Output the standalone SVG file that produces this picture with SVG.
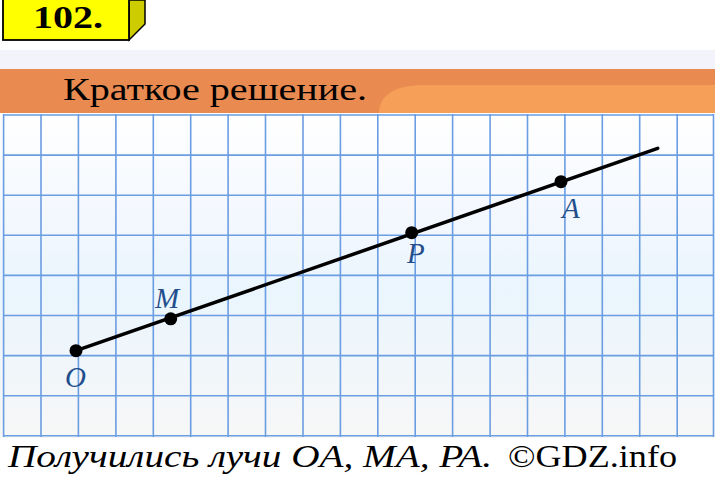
<svg xmlns="http://www.w3.org/2000/svg" width="715" height="477" viewBox="0 0 715 477">
<defs>
<style>
.grid line{stroke:#6B9DE2;stroke-width:1.6}
.pt{fill:#000}
.serif{font-family:"Liberation Serif","Times New Roman",serif}
.lbl{font-family:"Liberation Serif","Times New Roman",serif;font-style:italic;font-size:29px;fill:#234E8C}
.ray{stroke:#000;stroke-width:3.5;stroke-linecap:round;fill:none}
</style>
<linearGradient id="tint" x1="0" y1="0" x2="0" y2="1">
<stop offset="0" stop-color="#FFFFFF"/>
<stop offset="0.3" stop-color="#F4F8FE"/>
<stop offset="0.55" stop-color="#EAF5FD"/>
<stop offset="1" stop-color="#F7F7F7"/>
</linearGradient>
</defs>
<rect x="0" y="0" width="715" height="477" fill="#FFFFFF"/>
<rect x="0" y="50" width="715" height="19" fill="#F3F3FB"/>
<rect x="0" y="113" width="715" height="325" fill="url(#tint)"/>
<g id="header">
<polygon points="129,0 145,0 145,24 129,40" fill="#CCCC00" stroke="#000" stroke-width="1.5"/>
<rect x="3" y="-2" width="126" height="42" fill="#FFFF00" stroke="#000" stroke-width="1.8"/>
<text class="serif" x="33" y="28" font-weight="bold" font-size="31" fill="#000" textLength="70" lengthAdjust="spacingAndGlyphs">102.</text>
</g>
<g id="banner">
<rect x="0" y="69" width="715" height="44" fill="#E98A51"/>
<path d="M379,113 C379,95 395,85 425,85 L715,85 L715,113 Z" fill="#F59F58"/>
<text class="serif" x="63" y="100" font-size="32" fill="#000" textLength="304" lengthAdjust="spacingAndGlyphs">Краткое решение.</text>
</g>
<g class="grid">
<line x1="3.6" y1="114" x2="3.6" y2="437"/>
<line x1="41" y1="114" x2="41" y2="437"/>
<line x1="78.4" y1="114" x2="78.4" y2="437"/>
<line x1="115.9" y1="114" x2="115.9" y2="437"/>
<line x1="153.3" y1="114" x2="153.3" y2="437"/>
<line x1="190.7" y1="114" x2="190.7" y2="437"/>
<line x1="228.1" y1="114" x2="228.1" y2="437"/>
<line x1="265.5" y1="114" x2="265.5" y2="437"/>
<line x1="303" y1="114" x2="303" y2="437"/>
<line x1="340.4" y1="114" x2="340.4" y2="437"/>
<line x1="377.8" y1="114" x2="377.8" y2="437"/>
<line x1="415.2" y1="114" x2="415.2" y2="437"/>
<line x1="452.6" y1="114" x2="452.6" y2="437"/>
<line x1="490.1" y1="114" x2="490.1" y2="437"/>
<line x1="527.5" y1="114" x2="527.5" y2="437"/>
<line x1="564.9" y1="114" x2="564.9" y2="437"/>
<line x1="602.3" y1="114" x2="602.3" y2="437"/>
<line x1="639.7" y1="114" x2="639.7" y2="437"/>
<line x1="677.2" y1="114" x2="677.2" y2="437"/>
<line x1="713.5" y1="114" x2="713.5" y2="437"/>
<line x1="3" y1="115" x2="714" y2="115"/>
<line x1="3" y1="155.1" x2="714" y2="155.1"/>
<line x1="3" y1="195.2" x2="714" y2="195.2"/>
<line x1="3" y1="235.3" x2="714" y2="235.3"/>
<line x1="3" y1="275.4" x2="714" y2="275.4"/>
<line x1="3" y1="315.5" x2="714" y2="315.5"/>
<line x1="3" y1="355.6" x2="714" y2="355.6"/>
<line x1="3" y1="395.7" x2="714" y2="395.7"/>
<line x1="3" y1="435.8" x2="714" y2="435.8"/>
</g>
<g id="connectors">
<line class="ray" x1="76" y1="350.7" x2="657.7" y2="148.3"/>
</g>
<g id="node-O">
<circle class="pt" cx="76" cy="350.7" r="6.5"/>
<text class="lbl" x="65" y="387">O</text>
</g>
<g id="node-M">
<circle class="pt" cx="170.7" cy="318.8" r="6.5"/>
<text class="lbl" x="155" y="308">M</text>
</g>
<g id="node-P">
<circle class="pt" cx="411.7" cy="232.7" r="6.5"/>
<text class="lbl" x="407" y="263">P</text>
</g>
<g id="node-A">
<circle class="pt" cx="561" cy="181.7" r="6.5"/>
<text class="lbl" x="562" y="217.7">A</text>
</g>
<g id="caption">
<text class="serif" x="8" y="467" font-size="31" font-style="italic" fill="#000" textLength="484" lengthAdjust="spacingAndGlyphs">Получились лучи OA, MA, PA.</text>
<text class="serif" x="508" y="467" font-size="31" fill="#000" textLength="169" lengthAdjust="spacingAndGlyphs">©GDZ.info</text>
</g>
</svg>
